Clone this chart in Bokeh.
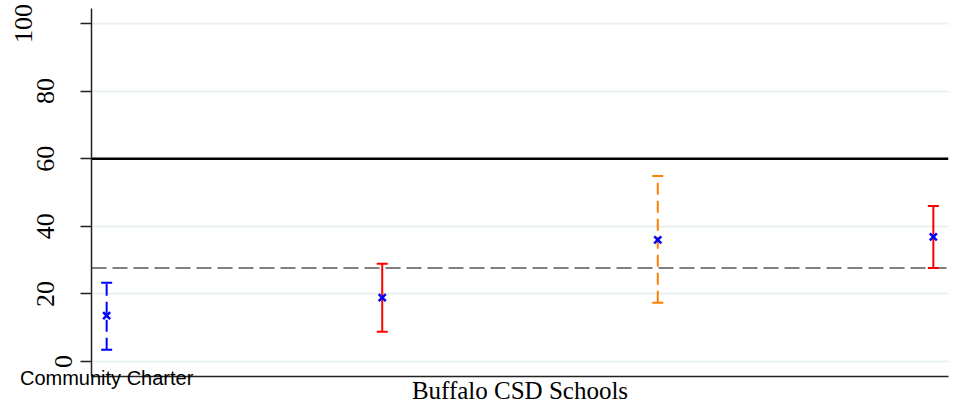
from bokeh.plotting import figure
from bokeh.models import (Range1d, LinearAxis, FixedTicker, Span, Whisker,
                          ColumnDataSource, Grid, TeeHead)
from bokeh.embed import file_html
from bokeh.resources import INLINE

# ---- data ----
x_pos = [1, 2, 3, 4]
means = [13.6, 18.9, 36.0, 36.9]
lower = [3.5, 8.8, 17.4, 27.7]
upper = [23.3, 28.9, 54.9, 46.0]
bar_colors = ["#0000ff", "#ff0000", "#ff7f00", "#ff0000"]
bar_dashed = [True, False, True, False]
x_tick_labels = {1: "Community Charter"}
x_axis_label = "Buffalo CSD Schools"
y_ticks = [0, 20, 40, 60, 80, 100]
ref_solid = 60
ref_dashed = 27.7

p = figure(width=952, height=406, output_backend="svg", toolbar_location=None,
           x_range=Range1d(0.945, 4.055), y_range=Range1d(-4.4, 104.4),
           x_axis_location=None, y_axis_location=None,
           min_border_left=91, min_border_right=4, min_border_top=8,
           min_border_bottom=29)
p.outline_line_color = None
p.background_fill_color = "white"
p.border_fill_color = "white"
p.center = [r for r in p.center if not isinstance(r, Grid)]

grid = Grid(dimension=1, ticker=FixedTicker(ticks=y_ticks),
            grid_line_color="#e9f1f3", grid_line_width=2)
p.add_layout(grid)

serif = "'Liberation Serif', 'Times New Roman', serif"
sans = "'Liberation Sans', Arial, sans-serif"

def yaxis(ticks, labels_shown, with_line, standoff):
    ax = LinearAxis(ticker=FixedTicker(ticks=ticks))
    ax.major_label_overrides = {t: ("" if t not in labels_shown else str(t)) for t in ticks}
    ax.major_label_orientation = "vertical"
    ax.major_label_text_font = serif
    ax.major_label_text_font_size = "26px"
    ax.major_label_text_color = "black"
    ax.minor_tick_line_color = None
    ax.major_label_standoff = standoff
    if with_line:
        ax.axis_line_color = "#222222"
        ax.axis_line_width = 1.5
        ax.major_tick_line_color = "#222222"
        ax.major_tick_line_width = 1.5
        ax.major_tick_out = 11
        ax.major_tick_in = 0
    else:
        ax.axis_line_color = None
        ax.major_tick_line_color = None
        ax.major_tick_out = 0
        ax.major_tick_in = 0
    return ax

p.add_layout(yaxis(y_ticks, [0], True, 8), "left")
p.add_layout(yaxis([20, 40, 60, 80], [20, 40, 60, 80], False, -2), "left")
p.add_layout(yaxis([100], [100], False, 3), "left")

xax = LinearAxis(ticker=FixedTicker(ticks=list(x_tick_labels.keys())))
xax.major_label_overrides = x_tick_labels
xax.major_label_text_font = sans
xax.major_label_text_font_size = "20px"
xax.major_label_text_color = "black"
xax.major_tick_out = 0
xax.major_tick_in = 0
xax.minor_tick_line_color = None
xax.major_label_standoff = -10
xax.axis_line_color = "#222222"
xax.axis_line_width = 1.5
xax.axis_label = x_axis_label
xax.axis_label_text_font = serif
xax.axis_label_text_font_style = "normal"
xax.axis_label_text_font_size = "25px"
xax.axis_label_text_color = "black"
xax.axis_label_standoff = -15
p.add_layout(xax, "below")

p.add_layout(Span(location=ref_solid, dimension="width", line_color="black",
                  line_width=2.5, level="underlay"))
p.add_layout(Span(location=ref_dashed, dimension="width", line_color="#808080",
                  line_width=2, line_dash="15 6", level="underlay"))

for i in range(len(x_pos)):
    src = ColumnDataSource(dict(x=[x_pos[i]], lo=[lower[i]], hi=[upper[i]]))
    c = bar_colors[i]
    w = Whisker(source=src, base="x", lower="lo", upper="hi", dimension="height",
                line_color=c, line_width=2,
                line_dash="12 6" if bar_dashed[i] else "solid",
                upper_head=TeeHead(size=11, line_color=c, line_width=2),
                lower_head=TeeHead(size=11, line_color=c, line_width=2),
                level="underlay")
    p.add_layout(w)

pts = ColumnDataSource(dict(x=x_pos, y=means))
p.scatter("x", "y", source=pts, marker="x", size=10, line_color="#0000ff",
          line_width=2.5)

open("out.html", "w").write(file_html(p, INLINE))
